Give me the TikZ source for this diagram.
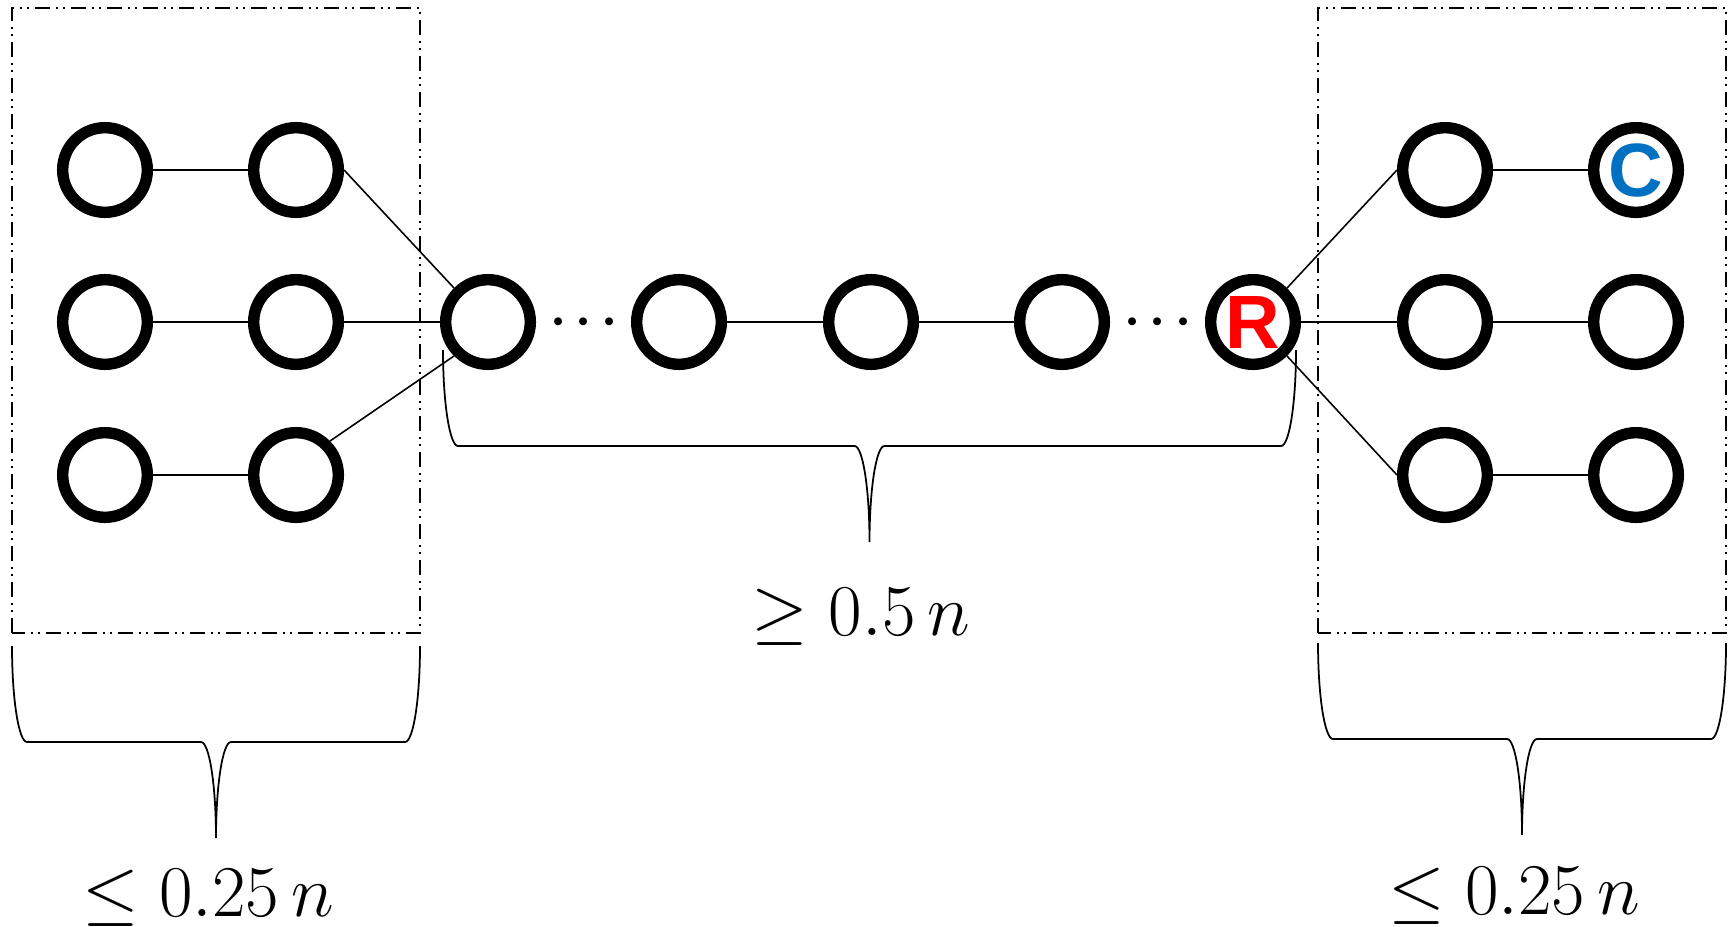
\documentclass[tikz,border=0pt]{standalone}
\usepackage{fontspec}
\newfontfamily\sansbold{Liberation Sans}
\definecolor{rred}{RGB}{255,0,0}
\definecolor{cblue}{RGB}{0,112,192}

% curly brace opening downwards: left x, tip x, right x, top y
\newcommand{\bracedown}[4]{%
  \draw[brc] (#1,#4) .. controls (#1,#4-53) and (#1+6.7,#4-96) .. (#1+15,#4-96)
    -- (#2-15,#4-96) .. controls (#2-6.7,#4-96) and (#2,#4-139) .. (#2,#4-192)
    .. controls (#2,#4-139) and (#2+6.7,#4-96) .. (#2+15,#4-96)
    -- (#3-15,#4-96) .. controls (#3-6.7,#4-96) and (#3,#4-53) .. (#3,#4);}

\begin{document}
\begin{tikzpicture}[x=0.01cm,y=0.01cm]
  \tikzset{
    vtx/.style={circle, draw=black, fill=white, line width=0.114cm, minimum size=0.846cm, inner sep=0pt},
    lnk/.style={draw=black, line width=0.45pt},
    grp/.style={draw=black, line width=0.5pt, dash pattern=on 0.15cm off 0.06cm on 0.02cm off 0.05cm on 0.02cm off 0.06cm},
    brc/.style={draw=black, line width=0.5pt},
    lbl/.style={font=\fontsize{20}{23}\selectfont, inner sep=0pt, anchor=base},
    letter/.style={font=\sansbold\bfseries\fontsize{21.5}{22}\selectfont},
    dotsnode/.style={font=\fontsize{14}{14}\selectfont\boldmath, inner sep=0pt, anchor=base}
  }
  \useasboundingbox (0,0) rectangle (1734,926);

  % Groups
  \draw[grp] (12,293) rectangle (420,918);
  \draw[grp] (1318,293) rectangle (1726,918);

  % Left group
  \node[vtx] (la1) at (105,756) {};
  \node[vtx] (lb1) at (296,756) {};
  \node[vtx] (la2) at (105,604) {};
  \node[vtx] (lb2) at (296,604) {};
  \node[vtx] (la3) at (105,451) {};
  \node[vtx] (lb3) at (296,451) {};

  % Path
  \node[vtx] (p1) at (488,604) {};
  \node[vtx] (p2) at (679,604) {};
  \node[vtx] (p3) at (871,604) {};
  \node[vtx] (p4) at (1062,604) {};
  \node[vtx, letter, text=rred] (r) at (1253,604) {R};
  \node[dotsnode] (dotsL) at (584,592) {$\cdots$};
  \node[dotsnode] (dotsR) at (1158,592) {$\cdots$};

  % Right group
  \node[vtx] (ra1) at (1445,756) {};
  \node[vtx, letter, text=cblue] (c) at (1636,756) {C};
  \node[vtx] (ra2) at (1445,604) {};
  \node[vtx] (rb2) at (1636,604) {};
  \node[vtx] (ra3) at (1445,451) {};
  \node[vtx] (rb3) at (1636,451) {};

  % Edges
  \draw[lnk] (la1) -- (lb1);
  \draw[lnk] (la2) -- (lb2);
  \draw[lnk] (la3) -- (lb3);
  \draw[lnk] (lb1.east) -- (p1.north west);
  \draw[lnk] (lb2) -- (p1);
  \draw[lnk] (lb3.north east) -- (p1.south west);
  \draw[lnk] (p2) -- (p3);
  \draw[lnk] (p3) -- (p4);
  \draw[lnk] (r.north east) -- (ra1.west);
  \draw[lnk] (r) -- (ra2);
  \draw[lnk] (r.south east) -- (ra3.west);
  \draw[lnk] (ra1) -- (c);
  \draw[lnk] (ra2) -- (rb2);
  \draw[lnk] (ra3) -- (rb3);

  % Braces
  \bracedown{12}{216}{420}{280}
  \bracedown{443}{869.5}{1296}{576}
  \bracedown{1318}{1522}{1726}{283}

  \node[lbl] (sizeL) at (208,10) {$\leq 0.25\,n$};
  \node[lbl] (sizeM) at (861,291) {$\geq 0.5\,n$};
  \node[lbl] (sizeR) at (1514,12) {$\leq 0.25\,n$};
\end{tikzpicture}
\end{document}
